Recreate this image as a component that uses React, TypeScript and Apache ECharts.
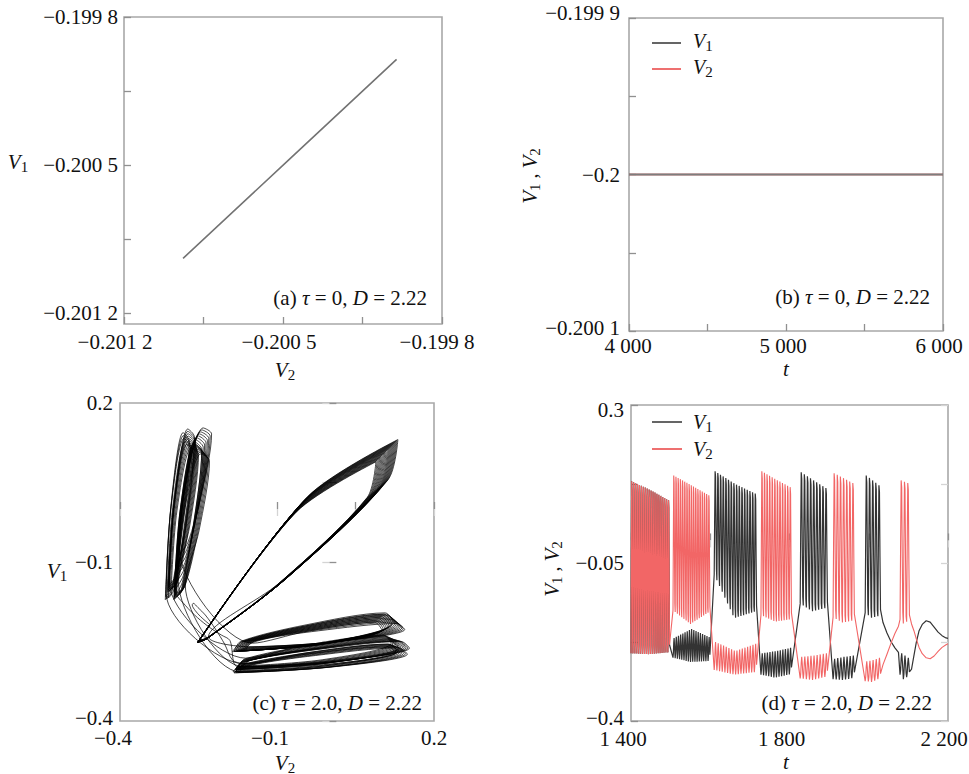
import React, { useEffect, useRef } from 'react';
import * as echarts from 'echarts';

const SERIF = "'Liberation Serif', 'Times New Roman', Times, serif";

// ---------- (a) tau = 0 : V1 against V2 ----------
const aV2 = [-0.20094, -0.20047, -0.2];
const aV1 = [-0.20094, -0.20047, -0.2];
const aTicks = [-0.2012, -0.20085, -0.2005, -0.20015, -0.1998];
const aLabels = [-0.2012, -0.2005, -0.1998];
const aLabelText = ['−0.201 2', '−0.200 5', '−0.199 8'];

// ---------- (b) tau = 0 : time series ----------
const bT = [4000, 6000];
const bV1 = [-0.2, -0.2];
const bV2 = [-0.2, -0.2];
const bXTicks = [4000, 4500, 5000, 5500, 6000];
const bXLabels = [4000, 5000, 6000];
const bXText = ['4 000', '5 000', '6 000'];
const bYTicks = [-0.2001, -0.20005, -0.2, -0.19995, -0.1999];
const bYLabels = [-0.2001, -0.2, -0.1999];
const bYText = ['−0.200 1', '−0.2', '−0.199 9'];

// ---------- (c)/(d) tau = 2.0 : bursts ----------
const dBurstStart = [1400, 1506, 1610, 1728, 1827, 1910, 1991, 2079];
const dBurstEnd = [1498, 1600, 1718, 1806, 1897, 1965, 2031, 2104];
const dBurstSpikes = [20, 17, 16, 12, 9, 7, 5, 3];
// 0 = both neurons fire together, 1 = V1 bursts, 2 = V2 bursts
const dBurstLeader = [0, 2, 1, 2, 1, 2, 1, 2];
// bursting neuron: spike peaks (first, middle, last spike)
const dPeak = [
  [0.131, 0.112, 0.089],
  [0.144, 0.122, 0.1],
  [0.153, 0.125, 0.104],
  [0.153, 0.135, 0.118],
  [0.151, 0.133, 0.116],
  [0.149, 0.138, 0.127],
  [0.144, 0.133, 0.122],
  [0.133, 0.13, 0.127],
];
// bursting neuron: troughs between spikes
const dTrough = [
  [-0.25, -0.252, -0.248],
  [-0.155, -0.185, -0.16],
  [-0.075, -0.172, -0.158],
  [-0.165, -0.18, -0.175],
  [-0.14, -0.157, -0.15],
  [-0.17, -0.182, -0.178],
  [-0.16, -0.171, -0.168],
  [-0.175, -0.184, -0.18],
];
// quiet neuron: small oscillation top / bottom
const dQuietHigh = [
  [-0.25, -0.25, -0.25],
  [-0.216, -0.196, -0.214],
  [-0.225, -0.245, -0.229],
  [-0.25, -0.245, -0.238],
  [-0.258, -0.255, -0.25],
  [-0.262, -0.258, -0.255],
  [-0.268, -0.265, -0.26],
  [-0.25, -0.255, -0.26],
];
const dQuietLow = [
  [-0.25, -0.25, -0.25],
  [-0.262, -0.273, -0.27],
  [-0.29, -0.3, -0.295],
  [-0.3, -0.307, -0.3],
  [-0.308, -0.312, -0.305],
  [-0.31, -0.312, -0.308],
  [-0.314, -0.316, -0.31],
  [-0.3, -0.31, -0.305],
];
// slow passage between the 7th and 8th bursts
const dGapT = [2036, 2046, 2056, 2066, 2075];
const dGapV1 = [-0.182, -0.205, -0.224, -0.238, -0.248];
const dGapV2 = [-0.275, -0.252, -0.228, -0.206, -0.19];
// damped end
const dTailT = [2108, 2114, 2120, 2127, 2135, 2145, 2155, 2165, 2175, 2185, 2195, 2200];
const dTailV1 = [-0.285, -0.255, -0.226, -0.2, -0.186, -0.178, -0.181, -0.192, -0.203, -0.211, -0.216, -0.217];
const dTailV2 = [-0.185, -0.2, -0.218, -0.237, -0.251, -0.26, -0.262, -0.256, -0.246, -0.237, -0.231, -0.229];
// one spike as fractions of (trough -> peak)
const LEAD_SHAPE = [0, 0.55, 1, 0.95, 0.45, 0.05];
const QUIET_SHAPE = [0.05, 0.25, 0.75, 1, 0.7, 0.3];
const LAG_SHAPE = [0, 0.72, 1, 0.8, 0.32, 0.02];

const cTicks = [-0.4, -0.25, -0.1, 0.05, 0.2];
const cLabels = [-0.4, -0.1, 0.2];
const cLabelText = ['−0.4', '−0.1', '0.2'];
const dXTicks = [1400, 1600, 1800, 2000, 2200];
const dXLabels = [1400, 1800, 2200];
const dXText = ['1 400', '1 800', '2 200'];
const dYTicks = [-0.4, -0.225, -0.05, 0.125, 0.3];
const dYLabels = [-0.4, -0.05, 0.3];
const dYText = ['−0.4', '−0.05', '0.3'];

function keyAt(k: number[], f: number) {
  return f <= 0.5 ? k[0] + (k[1] - k[0]) * f * 2 : k[1] + (k[2] - k[1]) * (f - 0.5) * 2;
}

function buildTraces() {
  const t: number[] = [];
  const v1d: number[] = [];
  const v2d: number[] = [];
  const v1c: number[] = [];
  for (let b = 0; b < dBurstStart.length; b++) {
    if (b === 7) {
      dGapT.forEach((tt, k) => {
        t.push(tt); v1d.push(dGapV1[k]); v2d.push(dGapV2[k]); v1c.push(dGapV1[k]);
      });
    }
    const n = dBurstSpikes[b];
    const P = (dBurstEnd[b] - dBurstStart[b]) / n;
    for (let i = 0; i < n; i++) {
      const f = n > 1 ? i / (n - 1) : 0;
      const pk = keyAt(dPeak[b], f);
      const tr = keyAt(dTrough[b], f);
      const hi = keyAt(dQuietHigh[b], f);
      const lo = keyAt(dQuietLow[b], f);
      for (let j = 0; j < LEAD_SHAPE.length; j++) {
        const tt = dBurstStart[b] + i * P + (j * P) / LEAD_SHAPE.length;
        const lead = tr + (pk - tr) * LEAD_SHAPE[j];
        const quiet = lo + (hi - lo) * QUIET_SHAPE[j];
        t.push(tt);
        if (dBurstLeader[b] === 0) {
          v1d.push(lead); v2d.push(lead); v1c.push(tr + (pk - tr) * LAG_SHAPE[j]);
        } else if (dBurstLeader[b] === 1) {
          v1d.push(lead); v2d.push(quiet); v1c.push(lead);
        } else {
          v1d.push(quiet); v2d.push(lead); v1c.push(quiet);
        }
      }
    }
  }
  dTailT.forEach((tt, k) => {
    t.push(tt); v1d.push(dTailV1[k]); v2d.push(dTailV2[k]); v1c.push(dTailV1[k]);
  });
  return { t, v1d, v2d, v1c };
}

const tok = (size: number, italic = false, extra: any = {}) => ({
  fontFamily: SERIF, fontSize: size, fontStyle: italic ? 'italic' : 'normal', fill: '#111', color: '#111', ...extra,
});

function fmt(values: number[], texts: string[]) {
  return (v: number) => {
    let k = 0;
    let best = Infinity;
    values.forEach((x, i) => {
      const d = Math.abs(x - v);
      if (d < best) { best = d; k = i; }
    });
    return `{l${k}|${texts[k]}}`;
  };
}

// dx: horizontal nudge (negative = left), dy: vertical nudge (negative = up), per label
function axis(
  grid: number, min: number, max: number, ticks: number[],
  labels: number[] | null, texts: string[] | null,
  o: { position?: string; margin?: number; dx?: number[]; dy?: number[]; faint?: boolean } = {}
) {
  const rich: any = {};
  (labels || []).forEach((_, i) => {
    const dx = o.dx ? o.dx[i] : 0;
    const dy = o.dy ? o.dy[i] : 0;
    rich['l' + i] = {
      fontFamily: SERIF, fontSize: 21, color: '#111', lineHeight: 20,
      padding: [dy > 0 ? 2 * dy : 0, dx < 0 ? -2 * dx : 0, dy < 0 ? -2 * dy : 0, dx > 0 ? 2 * dx : 0],
    };
  });
  return {
    type: 'value', gridIndex: grid, min, max, position: o.position,
    axisLine: { show: false },
    splitLine: { show: false },
    axisTick: {
      show: true, inside: true, length: 7, customValues: ticks,
      lineStyle: { color: o.faint ? '#d4d4d4' : '#909090', width: 1.3 },
    },
    axisLabel: labels && texts
      ? {
          show: true, customValues: labels, margin: o.margin ?? 7, formatter: fmt(labels, texts),
          fontFamily: SERIF, fontSize: 21, color: '#111', rich,
        }
      : { show: false },
  };
}

function richText(x: number, y: number, text: string, rich: any, align = 'center', rotation = 0) {
  return {
    type: 'text', x, y, rotation, silent: true,
    style: {
      text, rich, align, textAlign: align, verticalAlign: 'middle', textVerticalAlign: 'middle',
      fontFamily: SERIF, fontSize: 21, fill: '#111',
    },
  };
}

const titleRich = {
  v: tok(21, true, { lineHeight: 24 }),
  s: tok(15, false, { lineHeight: 20, verticalAlign: 'bottom' }),
  c: tok(20, false, { lineHeight: 24 }),
};
const timeRich = { v: tok(21, true, { lineHeight: 18 }) };
const legendRich = {
  v: tok(20, true, { lineHeight: 24 }),
  s: tok(15, false, { lineHeight: 10, verticalAlign: 'bottom' }),
  c: tok(20, false, { lineHeight: 24 }),
};
const rotRich = {
  v: tok(21, true, { lineHeight: 24 }),
  s: tok(15, false, { lineHeight: 14, verticalAlign: 'bottom' }),
  c: tok(20, false, { lineHeight: 24 }),
};
const noteRich = { t: tok(21), i: tok(21, true) };

export default function App() {
  const ref = useRef<HTMLDivElement>(null);
  useEffect(() => {
    if (!ref.current) return;
    const chart = echarts.init(ref.current, undefined, { renderer: 'svg' });
    const { t, v1d, v2d, v1c } = buildTraces();
    const gridBase = {
      show: true, borderColor: '#a8a8a8', borderWidth: 1.6, backgroundColor: 'transparent',
      containLabel: false, outerBoundsMode: 'none',
    };
    const option: any = {
      animation: false,
      backgroundColor: '#ffffff',
      textStyle: { fontFamily: SERIF },
      grid: [
        { ...gridBase, left: 124, top: 17, width: 318, height: 307 },
        { ...gridBase, left: 629, top: 18, width: 314, height: 313 },
        { ...gridBase, left: 120, top: 403, width: 314, height: 318 },
        { ...gridBase, left: 631, top: 405, width: 317, height: 316 },
      ],
      xAxis: [
        axis(0, -0.2012, -0.1998, aTicks, aLabels, aLabelText, { margin: 8, dx: [-9, -4, -5] }),
        axis(1, 4000, 6000, bXTicks, bXLabels, bXText, { margin: 5, dx: [-1, -3, -4] }),
        axis(2, -0.4, 0.2, cTicks, cLabels, cLabelText, { margin: 7, dx: [-7, -7, 0] }),
        axis(3, 1400, 2200, dXTicks, dXLabels, dXText, { margin: 8, dx: [-8, -8, -4] }),
        axis(2, -0.4, 0.2, cTicks, null, null, { position: 'top', faint: true }),
        axis(3, 1400, 2200, dXTicks, null, null, { position: 'top', faint: true }),
      ],
      yAxis: [
        axis(0, -0.20125, -0.1998, aTicks, aLabels, aLabelText, { margin: 6 }),
        axis(1, -0.2001, -0.1999, bYTicks, bYLabels, bYText, { margin: 9, dy: [-3, 0, -5] }),
        axis(2, -0.4, 0.2, cTicks, cLabels, cLabelText, { margin: 7, dy: [-3, 0, 0] }),
        axis(3, -0.4, 0.3, dYTicks, dYLabels, dYText, { margin: 7, dy: [-3, 0, 5] }),
        axis(2, -0.4, 0.2, cTicks, null, null, { position: 'right', faint: true }),
        axis(3, -0.4, 0.3, dYTicks, null, null, { position: 'right', faint: true }),
      ],
      series: [
        {
          name: 'a', type: 'line', xAxisIndex: 0, yAxisIndex: 0, showSymbol: false, silent: true,
          data: aV2.map((x, i) => [x, aV1[i]]),
          lineStyle: { color: '#737373', width: 1.6 },
        },
        {
          name: 'V2', type: 'line', xAxisIndex: 1, yAxisIndex: 1, showSymbol: false, silent: true,
          data: bT.map((x, i) => [x, bV2[i]]),
          lineStyle: { color: '#e02020', width: 1.6 },
        },
        {
          name: 'V1', type: 'line', xAxisIndex: 1, yAxisIndex: 1, showSymbol: false, silent: true,
          data: bT.map((x, i) => [x, bV1[i]]),
          lineStyle: { color: '#7d7d7d', width: 1.8 },
        },
        {
          name: 'c', type: 'line', xAxisIndex: 2, yAxisIndex: 2, showSymbol: false, silent: true,
          smooth: 0.3,
          data: t.map((_, k) => [v2d[k], v1c[k]]),
          lineStyle: { color: '#000000', width: 0.9, opacity: 0.8 },
        },
        {
          name: 'V1d', type: 'line', xAxisIndex: 3, yAxisIndex: 3, showSymbol: false, silent: true,
          data: t.map((x, k) => [x, v1d[k]]),
          lineStyle: { color: '#333333', width: 1.2, opacity: 1 },
        },
        {
          name: 'V2d', type: 'line', xAxisIndex: 3, yAxisIndex: 3, showSymbol: false, silent: true,
          data: t.map((x, k) => [x, v2d[k]]),
          lineStyle: { color: '#f26666', width: 1.1, opacity: 1 },
        },
      ],
      graphic: [
        // (a)
        richText(18, 162, '{v|V}{s|1}', titleRich),
        richText(285, 370, '{v|V}{s|2}', titleRich),
        richText(427, 298, '{t|(a) }{i|τ}{t| = 0, }{i|D}{t| = 2.22}', noteRich, 'right'),
        // (b)
        richText(530, 176, '{v|V}{s|1}{c| , }{v|V}{s|2}', rotRich, 'center', Math.PI / 2),
        richText(786, 369, '{v|t}', timeRich),
        { type: 'line', silent: true, shape: { x1: 652, y1: 43, x2: 681, y2: 43 }, style: { stroke: '#111', lineWidth: 1.3 } },
        { type: 'line', silent: true, shape: { x1: 652, y1: 69, x2: 681, y2: 69 }, style: { stroke: '#e52222', lineWidth: 1.3 } },
        richText(693, 41, '{v|V}{s|1}', legendRich, 'left'),
        richText(693, 67, '{v|V}{s|2}', legendRich, 'left'),
        richText(930, 297, '{t|(b) }{i|τ}{t| = 0, }{i|D}{t| = 2.22}', noteRich, 'right'),
        // (c)
        richText(57, 571, '{v|V}{s|1}', titleRich),
        richText(285, 763, '{v|V}{s|2}', titleRich),
        richText(422, 703, '{t|(c) }{i|τ}{t| = 2.0, }{i|D}{t| = 2.22}', noteRich, 'right'),
        // (d)
        richText(552, 569, '{v|V}{s|1}{c| , }{v|V}{s|2}', rotRich, 'center', Math.PI / 2),
        richText(786, 762, '{v|t}', timeRich),
        { type: 'line', silent: true, shape: { x1: 652, y1: 422, x2: 682, y2: 422 }, style: { stroke: '#111', lineWidth: 1.3 } },
        { type: 'line', silent: true, shape: { x1: 652, y1: 449, x2: 682, y2: 449 }, style: { stroke: '#e52222', lineWidth: 1.3 } },
        richText(693, 422, '{v|V}{s|1}', legendRich, 'left'),
        richText(693, 449, '{v|V}{s|2}', legendRich, 'left'),
        richText(932, 703, '{t|(d) }{i|τ}{t| = 2.0, }{i|D}{t| = 2.22}', noteRich, 'right'),
      ],
    };
    chart.setOption(option);
    return () => chart.dispose();
  }, []);
  return (
    <div
      ref={ref}
      style={{ position: 'absolute', left: 0, top: 0, width: 969, height: 774, background: '#fff' }}
    />
  );
}
